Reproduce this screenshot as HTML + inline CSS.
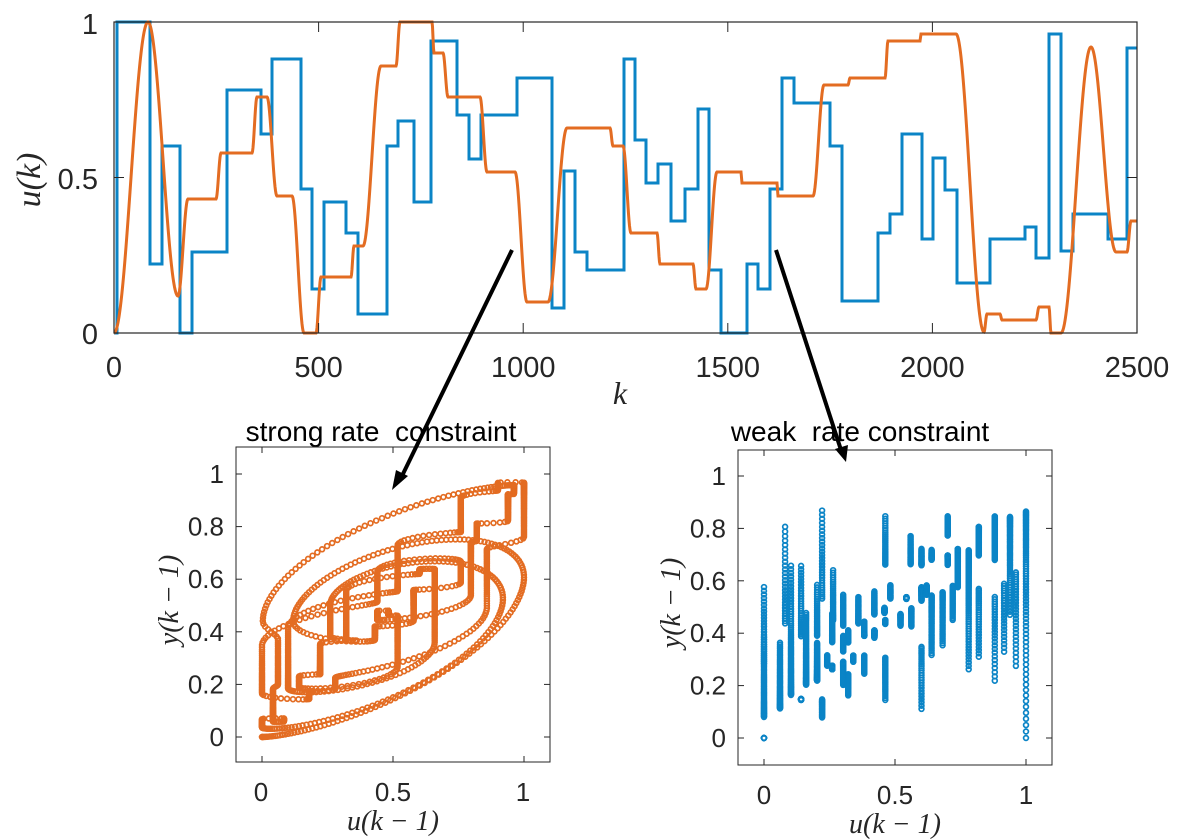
<!DOCTYPE html>
<html><head><meta charset="utf-8"><style>
body{margin:0;background:#fff}
svg{display:block}
text{font-family:"Liberation Sans",sans-serif;fill:#262626;white-space:pre}
.m{font-family:"Liberation Serif",serif;font-style:italic}
</style></head><body>
<svg id="s" width="1183" height="839" viewBox="0 0 1183 839" xmlns="http://www.w3.org/2000/svg">
<rect width="1183" height="839" fill="#fff"/>
<g id="topg"></g>
<rect x="114" y="22" width="1023" height="311" fill="none" stroke="#262626" stroke-width="1.2"/>
<g stroke="#262626" stroke-width="1">
<line x1="318.6" y1="22" x2="318.6" y2="32"/><line x1="523.2" y1="22" x2="523.2" y2="32"/><line x1="727.8" y1="22" x2="727.8" y2="32"/><line x1="932.4" y1="22" x2="932.4" y2="32"/>
<line x1="318.6" y1="333" x2="318.6" y2="323"/><line x1="523.2" y1="333" x2="523.2" y2="323"/><line x1="727.8" y1="333" x2="727.8" y2="323"/><line x1="932.4" y1="333" x2="932.4" y2="323"/>
<line x1="114" y1="177.5" x2="124" y2="177.5"/><line x1="1137" y1="177.5" x2="1127" y2="177.5"/>
</g>
<g font-size="29" text-anchor="middle">
<text x="114" y="377">0</text><text x="318.6" y="377">500</text><text x="523.2" y="377">1000</text><text x="727.8" y="377">1500</text><text x="932.4" y="377">2000</text><text x="1137" y="377">2500</text>
<text x="98" y="344" text-anchor="end">0</text><text x="98" y="189" text-anchor="end">0.5</text><text x="98" y="34" text-anchor="end">1</text>
</g>
<text class="m" x="620" y="404" font-size="32" text-anchor="middle">k</text>
<text class="m" font-size="34" text-anchor="middle" transform="translate(40,180) rotate(-90)">u(k)</text>

<text x="381" y="441" font-size="28" text-anchor="middle" style="fill:#000">strong rate  constraint</text>
<g id="bl"></g>
<rect x="236" y="447" width="314" height="315" fill="none" stroke="#262626" stroke-width="1"/>
<g stroke="#262626" stroke-width="1">
<line x1="262" y1="762" x2="262" y2="756"/><line x1="393" y1="762" x2="393" y2="756"/><line x1="524" y1="762" x2="524" y2="756"/>
<line x1="262" y1="447" x2="262" y2="453"/><line x1="393" y1="447" x2="393" y2="453"/><line x1="524" y1="447" x2="524" y2="453"/>
</g>
<g id="blt" stroke="#262626" stroke-width="1"></g>
<g font-size="26" text-anchor="middle">
<text x="261" y="801">0</text><text x="393" y="801">0.5</text><text x="523" y="801">1</text>
</g>
<g id="blyl" font-size="26" text-anchor="end"></g>
<text class="m" x="393" y="830" font-size="28" text-anchor="middle">u(k − 1)</text>
<text class="m" font-size="28" text-anchor="middle" transform="translate(178,600) rotate(-90)">y(k − 1)</text>

<text x="860" y="441" font-size="28" text-anchor="middle" style="fill:#000">weak  rate constraint</text>
<g id="br"></g>
<rect x="738" y="450" width="314" height="315" fill="none" stroke="#262626" stroke-width="1"/>
<g stroke="#262626" stroke-width="1">
<line x1="764" y1="765" x2="764" y2="759"/><line x1="895" y1="765" x2="895" y2="759"/><line x1="1026" y1="765" x2="1026" y2="759"/>
<line x1="764" y1="450" x2="764" y2="456"/><line x1="895" y1="450" x2="895" y2="456"/><line x1="1026" y1="450" x2="1026" y2="456"/>
</g>
<g id="brt" stroke="#262626" stroke-width="1"></g>
<g font-size="26" text-anchor="middle">
<text x="764" y="804">0</text><text x="895" y="804">0.5</text><text x="1026" y="804">1</text>
</g>
<g id="bryl" font-size="26" text-anchor="end"></g>
<text class="m" x="895" y="833" font-size="28" text-anchor="middle">u(k − 1)</text>
<text class="m" font-size="28" text-anchor="middle" transform="translate(680,603) rotate(-90)">y(k − 1)</text>

<g stroke="#000" stroke-width="4">
<line x1="512" y1="250" x2="401" y2="478"/>
<line x1="776" y1="250" x2="841" y2="450"/>
</g>
<polygon points="392,490 396,470 408,476" fill="#000"/>
<polygon points="846,462 835,449 848,445" fill="#000"/>
</svg>
<script>
var B=[[114,333],[117,333],[117,22],[150,22],[150,264],[162,264],[162,146],[180,146],[180,333],[192,333],[192,252],[227,252],[227,90],[261,90],[261,134],[272,134],[272,59],[301,59],[301,189],[312,189],[312,289],[324,289],[324,202],[346,202],[346,233],[358,233],[358,314],[387,314],[387,146],[398,146],[398,121],[414,121],[414,202],[431,202],[431,41],[457,41],[457,115],[469,115],[469,159],[481,159],[481,115],[517,115],[517,78],[552,78],[552,308],[564,308],[564,171],[575,171],[575,252],[587,252],[587,270],[624,270],[624,59],[635,59],[635,140],[646,140],[646,183],[658,183],[658,164],[671,164],[671,221],[685,221],[685,189],[698,189],[698,109],[709,109],[709,270],[721,270],[721,333],[747,333],[747,264],[758,264],[758,289],[770,289],[770,189],[782,189],[782,78],[794,78],[794,103],[830,103],[830,146],[842,146],[842,301],[878,301],[878,233],[890,233],[890,214],[902,214],[902,134],[922,134],[922,239],[933,239],[933,158],[945,158],[945,190],[957,190],[957,283],[990,283],[990,239],[1025,239],[1025,227],[1036,227],[1036,258],[1049,258],[1049,34],[1061,34],[1061,251],[1073,251],[1073,214],[1108,214],[1108,239],[1127,239],[1127,48],[1137,48]];
var O=[[114,333],[148,22],[178,296],[188,199],[216,199],[221,153],[252,153],[257,97],[267,97],[277,196],[292,196],[304,333],[316,333],[321,277],[351,277],[354,246],[363,246],[381,66],[396,66],[400,22],[432,22],[434,53],[443,53],[448,97],[480,97],[487,172],[515,172],[527,302],[548,302],[567,128],[610,128],[613,146],[623,146],[631,233],[657,233],[660,264],[693,264],[696,289],[706,289],[717,172],[741,172],[742,183],[777,183],[778,196],[813,196],[824,85],[848,85],[850,78],[885,78],[888,41],[920,41],[921,34],[956,34],[984,332],[987,314],[1000,314],[1002,320],[1036,320],[1039,307],[1049,307],[1051,333],[1061,333],[1091,47],[1116,252],[1127,252],[1131,221],[1137,221]];
function lin(P,x){for(var i=0;i<P.length-1;i++){if(P[i+1][0]>P[i][0]&&x>=P[i][0]&&x<=P[i+1][0]){var t=(x-P[i][0])/(P[i+1][0]-P[i][0]);return P[i][1]+(P[i+1][1]-P[i][1])*t;}}return P[P.length-1][1];}
function cosi(P,x){for(var i=0;i<P.length-1;i++){if(x>=P[i][0]&&x<=P[i+1][0]){var t=(x-P[i][0])/(P[i+1][0]-P[i][0]);t=(1-Math.cos(Math.PI*t))/2;return P[i][1]+(P[i+1][1]-P[i][1])*t;}}return P[P.length-1][1];}
var NS="http://www.w3.org/2000/svg";
function el(n,a,p){var e=document.createElementNS(NS,n);for(var k in a)e.setAttribute(k,a[k]);p.appendChild(e);return e;}
var tg=document.getElementById('topg');
var bp=B.map(function(p){return p.join(',')}).join(' ');
el('polyline',{points:bp,fill:'none',stroke:'#0b84c6','stroke-width':3},tg);
var op=[];for(var x=114;x<=1137;x+=0.5)op.push(x+','+cosi(O,x).toFixed(2));
el('polyline',{points:op.join(' '),fill:'none',stroke:'#e36c22','stroke-width':3},tg);
function scat(fn,g,col,x0,ux,y0,uy,a){var y=0;for(var k=0;k<2500;k++){var px=114+k*1023/2500;var u=(333-fn(px))/311;u=Math.max(0,Math.min(1,u));
var cx=x0+u*ux,cy=y0-y*uy;el('circle',{cx:cx.toFixed(1),cy:cy.toFixed(1),r:2.4,fill:'none',stroke:col,'stroke-width':1.7},g);y=a*y+(1-a)*u;}}
scat(function(x){return cosi(O,x)},document.getElementById('bl'),'#e36c22',262,262,737,263,0.975);
scat(function(x){return lin(B,x)},document.getElementById('br'),'#0b84c6',764,262,738,262,0.975);
function yt(gid,tid,x0,x1,y0,uy){var g=document.getElementById(gid),t=document.getElementById(tid);['0','0.2','0.4','0.6','0.8','1'].forEach(function(v){var y=y0-parseFloat(v)*uy;var e=el('text',{x:x0-12,y:y+9},g);e.textContent=v;el('line',{x1:x0,y1:y,x2:x0+6,y2:y},t);el('line',{x1:x1,y1:y,x2:x1-6,y2:y},t);});}
yt('blyl','blt',236,550,737,263);
yt('bryl','brt',738,1052,738,262);
</script>
</body></html>
